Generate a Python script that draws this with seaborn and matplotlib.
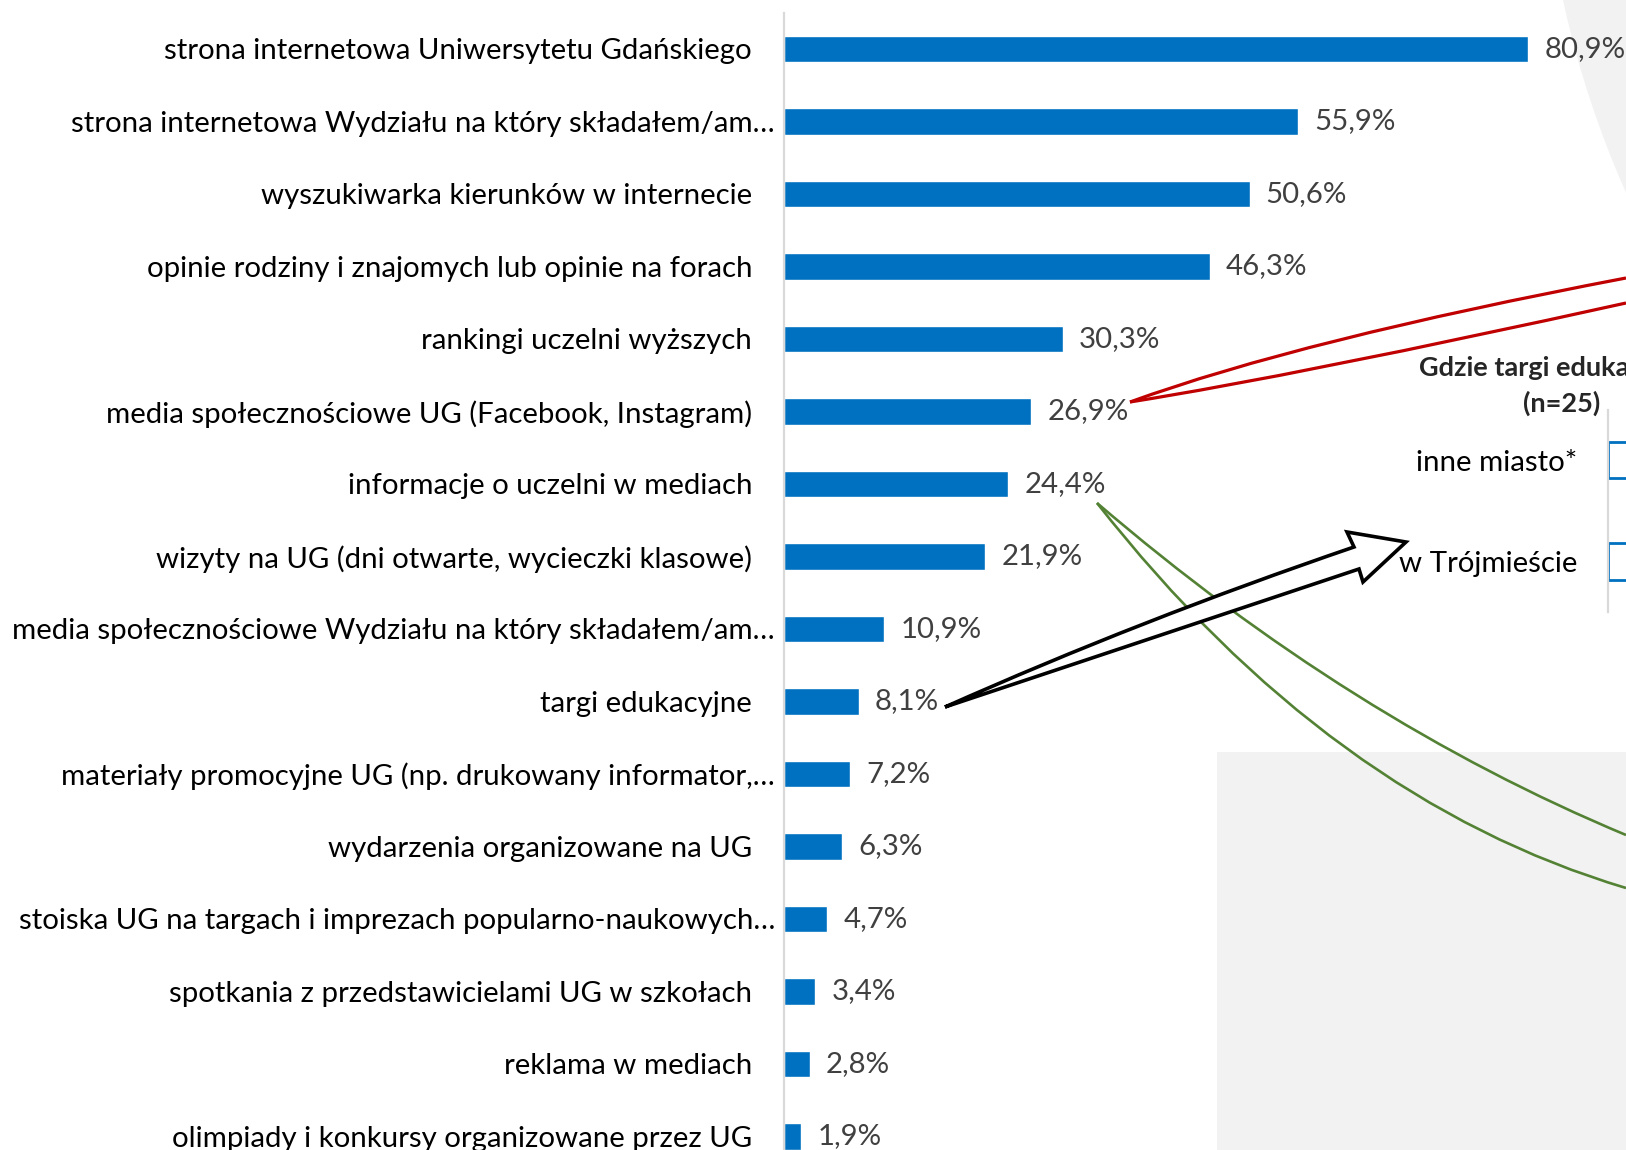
import matplotlib
matplotlib.use("Agg")
import matplotlib.pyplot as plt
import seaborn as sns
import pandas as pd
from matplotlib.patches import Rectangle, Circle, PathPatch
from matplotlib.path import Path
from matplotlib.transforms import ScaledTranslation

# --------------------------------------------------
# Data
# --------------------------------------------------
sources = [
    "strona internetowa Uniwersytetu Gdańskiego",
    "strona internetowa Wydziału na który składałem/am…",
    "wyszukiwarka kierunków w internecie",
    "opinie rodziny i znajomych lub opinie na forach",
    "rankingi uczelni wyższych",
    "media społecznościowe UG (Facebook, Instagram)",
    "informacje o uczelni w mediach",
    "wizyty na UG (dni otwarte, wycieczki klasowe)",
    "media społecznościowe Wydziału na który składałem/am…",
    "targi edukacyjne",
    "materiały promocyjne UG (np. drukowany informator,…",
    "wydarzenia organizowane na UG",
    "stoiska UG na targach i imprezach popularno-naukowych…",
    "spotkania z przedstawicielami UG w szkołach",
    "reklama w mediach",
    "olimpiady i konkursy organizowane przez UG",
]
shares = [80.9, 55.9, 50.6, 46.3, 30.3, 26.9, 24.4, 21.9,
          10.9, 8.1, 7.2, 6.3, 4.7, 3.4, 2.8, 1.9]

fair_places = ["inne miasto*", "w Trójmieście"]
fair_shares = [56.0, 44.0]
fair_title = "Gdzie targi edukacyjne?"
fair_n = "(n=25)"

df = pd.DataFrame({"source": sources, "share": shares})
df_fair = pd.DataFrame({"place": fair_places, "share": fair_shares})

# --------------------------------------------------
# Style
# --------------------------------------------------
sns.set_style("white")
plt.rcParams["font.family"] = ["Lato", "DejaVu Sans"]

BLUE = "#0070C0"
GREY_TXT = "#404040"
FS = 21.2
W, H = 1626, 1150

fig = plt.figure(figsize=(W / 100, H / 100), dpi=100)

# background shapes (pixel coords)
bg = fig.add_axes([0, 0, 1, 1], zorder=0)
bg.set_xlim(0, W)
bg.set_ylim(H, 0)
bg.axis("off")
bg.add_patch(Circle((2540, -213), 1000, color="#f2f2f2", lw=0))
bg.add_patch(Rectangle((1217, 752), W - 1217, H - 752, color="#f2f2f2", lw=0))

# --------------------------------------------------
# Main chart
# --------------------------------------------------
ax = fig.add_axes([784 / W, 0, (W - 784) / W, (H - 13) / H], zorder=1)
ax.patch.set_alpha(0)

sns.barplot(data=df, x="share", y="source", orient="h",
            color=BLUE, saturation=1, width=0.36, ax=ax)

ax.set_xlim(0, (W - 784) / 9.2)
ax.set_ylim((H - 49) / 72.5, (13 - 49) / 72.5)
ax.set_xlabel("")
ax.set_ylabel("")
ax.set_xticks([])
ax.tick_params(axis="y", length=0, pad=23, labelsize=FS, labelcolor="black")
for s in ["top", "right", "bottom"]:
    ax.spines[s].set_visible(False)
ax.spines["left"].set_color("#d9d9d9")
ax.spines["left"].set_linewidth(1.6)

shift = ScaledTranslation(0.23, 0, fig.dpi_scale_trans)
for lbl in ax.get_yticklabels():
    if lbl.get_text().endswith("…"):
        lbl.set_transform(lbl.get_transform() + shift)

ax.bar_label(ax.containers[0],
             labels=[f"{v:.1f}".replace(".", ",") + "%" for v in shares],
             padding=11.5, color=GREY_TXT, fontsize=FS)

# --------------------------------------------------
# Inset: where were the fairs
# --------------------------------------------------
ax2 = fig.add_axes([1608 / W, (H - 612) / H, 0.3, (612 - 410) / H], zorder=2)
ax2.patch.set_alpha(0)
sns.barplot(data=df_fair, x="share", y="place", orient="h",
            color=BLUE, saturation=1, width=0.36, ax=ax2)
for p in ax2.patches:
    p.set_facecolor("white")
    p.set_edgecolor(BLUE)
    p.set_linewidth(2)
ax2.set_xlim(0, 50)
ax2.set_ylim(1.5, -0.495)
ax2.set_xlabel("")
ax2.set_ylabel("")
ax2.set_xticks([])
ax2.tick_params(axis="y", length=0, pad=22, labelsize=FS, labelcolor="black")
for s in ["top", "right", "bottom"]:
    ax2.spines[s].set_visible(False)
ax2.spines["left"].set_color("#d9d9d9")
ax2.spines["left"].set_linewidth(1.6)

# --------------------------------------------------
# Overlay: callout lines and arrow
# --------------------------------------------------
ov = fig.add_axes([0, 0, 1, 1], zorder=3)
ov.set_xlim(0, W)
ov.set_ylim(H, 0)
ov.axis("off")

ov.text(1562, 368, fair_title, ha="center", va="center",
        fontsize=19.5, fontweight="bold")
ov.text(1562, 403, fair_n, ha="center", va="center",
        fontsize=19.5, fontweight="bold")

Q = [Path.MOVETO, Path.CURVE3, Path.CURVE3]

# red callout
for ctrl, end in [((1300, 340), (1626, 278)), ((1300, 375), (1626, 303))]:
    ov.add_patch(PathPatch(Path([(1130, 402), ctrl, end], Q),
                           fill=False, ec="#C00000", lw=2.3))

# green callout
for ctrl, end in [((1350, 720), (1626, 835)), ((1330, 800), (1626, 888))]:
    ov.add_patch(PathPatch(Path([(1097, 503), ctrl, end], Q),
                           fill=False, ec="#548235", lw=1.9))

# black block arrow
arrow_verts = [(945, 707), (1140, 620), (1354, 547),
               (1347, 532), (1406, 542), (1363, 582), (1359, 569),
               (945, 707), (945, 707)]
arrow_codes = [Path.MOVETO, Path.CURVE3, Path.CURVE3,
               Path.LINETO, Path.LINETO, Path.LINETO, Path.LINETO,
               Path.LINETO, Path.CLOSEPOLY]
ov.add_patch(PathPatch(Path(arrow_verts, arrow_codes),
                       fc="white", ec="black", lw=2.6, joinstyle="miter"))

fig.savefig("out.png", dpi=100)
